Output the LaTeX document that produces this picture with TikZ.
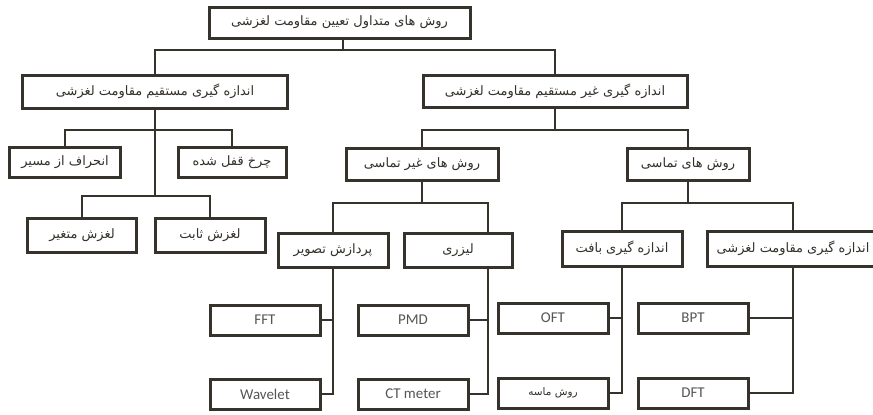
\documentclass[tikz,border=0pt]{standalone}
\usepackage{fontspec}
\setmainfont{Carlito}
\newfontfamily\fafont[Script=Arabic]{DejaVu Sans}
\TeXXeTstate=1
\newcommand\fa[1]{\hbox{\beginR #1\endR}}
\definecolor{linec}{HTML}{36322C}
\definecolor{fatxt}{HTML}{332F2A}
\definecolor{latxt}{HTML}{555555}
\begin{document}
\begin{tikzpicture}[x=1bp,y=-1bp,
  box/.style={draw=linec, line width=3bp, fill=white, inner sep=0pt,
    minimum width=110bp, minimum height=30bp, text=fatxt,
    font=\fafont\fontsize{13}{15}\selectfont},
  lat/.style={box, text=latxt, font=\fontsize{15}{18}\selectfont},
  conn/.style={draw=linec, line width=2.5bp}]
\useasboundingbox (0,0) rectangle (873,414);
\clip (0,0) rectangle (873,414);
\fill[white] (0,0) rectangle (873,414);

% junction points of the connector buses
\coordinate (j0) at (343,50);
\coordinate (j1) at (155,130);
\coordinate (j2) at (155,196);
\coordinate (j3) at (555,130);
\coordinate (j4) at (422,203);
\coordinate (j5) at (688,203);
\coordinate (lz) at (488,0);

% top level
\node[box, minimum width=261bp, minimum height=31bp] (root) at (339.5,22.5) {\fa{روش های متداول تعیین مقاومت لغزشی}};
\node[box, minimum width=264bp, minimum height=33bp] (direct) at (155,91.5) {\fa{اندازه گیری مستقیم مقاومت لغزشی}};
\node[box, minimum width=264bp, minimum height=32bp] (indirect) at (555,91) {\fa{اندازه گیری غیر مستقیم مقاومت لغزشی}};

% direct methods
\node[box, minimum width=110bp] (deviation) at (65,162) {\fa{انحراف از مسیر}};
\node[box, minimum width=108bp] (locked) at (232,162) {\fa{چرخ قفل شده}};
\node[box, minimum width=108bp, minimum height=34bp] (variable) at (82,235) {\fa{لغزش متغیر}};
\node[box, minimum width=110bp, minimum height=34bp] (fixed) at (210,235) {\fa{لغزش ثابت}};

% indirect methods
\node[box, minimum width=152bp, minimum height=32bp] (noncontact) at (422,164) {\fa{روش های غیر تماسی}};
\node[box, minimum width=122bp, minimum height=32bp] (contact) at (688,164) {\fa{روش های تماسی}};
\node[box, minimum width=110bp, minimum height=34bp] (imgproc) at (333,250) {\fa{پردازش تصویر}};
\node[box, minimum width=108bp, minimum height=34bp] (laser) at (458,250) {\fa{لیزری}};
\node[box, minimum width=120bp, minimum height=35bp] (texture) at (622,248.5) {\fa{اندازه گیری بافت}};
\node[box, minimum width=172bp, minimum height=35bp] (skid) at (793,248.5) {\fa{اندازه گیری مقاومت لغزشی}};

% devices
\node[lat] (fft) at (265,320) {FFT};
\node[lat] (wavelet) at (265,394) {Wavelet};
\node[lat] (pmd) at (413,320) {PMD};
\node[lat] (ctm) at (413,394) {CT meter};
\node[lat] (oft) at (553,318) {OFT};
\node[box, font=\fafont\fontsize{10.5}{12}\selectfont] (sand) at (553,393) {\fa{روش ماسه}};
\node[lat] (bpt) at (693,318) {BPT};
\node[lat] (dft) at (693,393) {DFT};

% connectors
\draw[conn] (root.south -| j0) -- (j0);
\draw[conn] (direct.north) |- (j0) -| (indirect.north);
\draw[conn] (direct.south) -- (j2);
\draw[conn] (deviation.north) |- (j1) -| (locked.north);
\draw[conn] (variable.north) |- (j2) -| (fixed.north);
\draw[conn] (indirect.south) -- (j3);
\draw[conn] (noncontact.north) |- (j3) -| (contact.north);
\draw[conn] (noncontact.south) -- (j4);
\draw[conn] (imgproc.north) |- (j4) -| (laser.north -| lz);
\draw[conn] (contact.south) -- (j5);
\draw[conn] (texture.north) |- (j5) -| (skid.north);

\draw[conn] (imgproc.south) |- (wavelet.east);
\draw[conn] (fft.east) -- (fft.east -| imgproc.south);
\draw[conn] (laser.south -| lz) |- (ctm.east);
\draw[conn] (pmd.east) -- (pmd.east -| lz);
\draw[conn] (texture.south) |- (sand.east);
\draw[conn] (oft.east) -- (oft.east -| texture.south);
\draw[conn] (skid.south) |- (dft.east);
\draw[conn] (bpt.east) -- (bpt.east -| skid.south);
\end{tikzpicture}
\end{document}
